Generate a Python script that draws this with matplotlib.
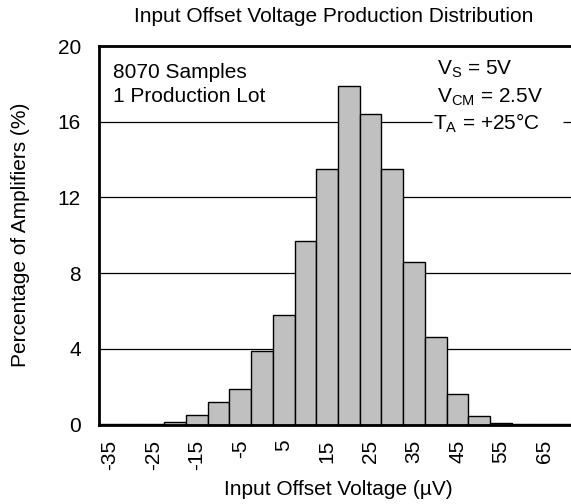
import numpy as np
import matplotlib
matplotlib.use('Agg')
from matplotlib import pyplot as plt

plt.rcParams['font.family'] = ['Liberation Sans', 'DejaVu Sans']
plt.rcParams['mathtext.fontset'] = 'custom'
plt.rcParams['mathtext.rm'] = 'Liberation Sans'
plt.rcParams['mathtext.it'] = 'Liberation Sans:italic'

# ── Data: histogram bin centres (µV) and percentage of amplifiers ─────────
bin_centers = [-35, -30, -25, -20, -15, -10, -5, 0, 5, 10, 15,
               20, 25, 30, 35, 40, 45, 50, 55, 60, 65, 70]
percentages = [0.01, 0.02, 0.05, 0.15, 0.5, 1.2, 1.9, 3.9, 5.8, 9.7, 13.5,
               17.9, 16.4, 13.5, 8.6, 4.6, 1.6, 0.44, 0.1, 0.05, 0.02, 0.01]
tick_values = [-35, -25, -15, -5, 5, 15, 25, 35, 45, 55, 65]
y_ticks = [0, 4, 8, 12, 16, 20]
bin_width = 5

FS = 15

# ── Figure ─────────────────────────────────────────────────────────────────
fig = plt.figure(figsize=(5.71, 5.04), dpi=100)
ax = fig.add_axes([99 / 571, 1 - 424.5 / 504, 478 / 571, 378.5 / 504])

# horizontal grid lines (the 16 % line is broken by the T_A label)
for yv in [4, 8, 12]:
    ax.axhline(yv, color='black', linewidth=0.9, zorder=1)
ax.hlines(16, -37.5, 39.2, color='black', linewidth=0.9, zorder=1)
ax.hlines(16, 69.3, 72.5, color='black', linewidth=0.9, zorder=1)

ax.bar(bin_centers, percentages, width=bin_width, color='#C0C0C0',
       edgecolor='black', linewidth=1.0, zorder=2)

ax.set_xlim(-37.5, 72.5)
ax.set_ylim(0, 20)
ax.set_xticks(tick_values)
ax.set_xticklabels([str(v) for v in tick_values], rotation=90)
ax.set_yticks(y_ticks)
ax.tick_params(length=0, labelsize=FS)
ax.tick_params(axis='x', pad=11)
ax.tick_params(axis='y', pad=13)

for side in ['left', 'bottom', 'top', 'right']:
    ax.spines[side].set_linewidth(2.0)

ax.set_xlabel('Input Offset Voltage (µV)', fontsize=FS, labelpad=7)
ax.set_ylabel('Percentage of Amplifiers (%)', fontsize=FS, labelpad=20)
fig.text(333.5 / 571, 1 - 17 / 504, 'Input Offset Voltage Production Distribution',
         fontsize=FS, ha='center', va='center')

# ── Annotations ────────────────────────────────────────────────────────────
ax.text(-34.3, 18.3, '8070 Samples', fontsize=FS, ha='left', va='baseline')
ax.text(-34.3, 17.06, '1 Production Lot', fontsize=FS, ha='left', va='baseline')
ax.text(40.3, 18.47, r'V$_\mathregular{S}$ = 5V', fontsize=FS,
        ha='left', va='baseline', zorder=3)
ax.text(40.3, 16.99, r'V$_\mathregular{CM}$ = 2.5V', fontsize=FS,
        ha='left', va='baseline', zorder=3)
ax.text(39.4, 15.56, r'T$_\mathregular{A}$ = +25°C', fontsize=FS,
        ha='left', va='baseline', zorder=3)

fig.savefig('out.png', dpi=100)
